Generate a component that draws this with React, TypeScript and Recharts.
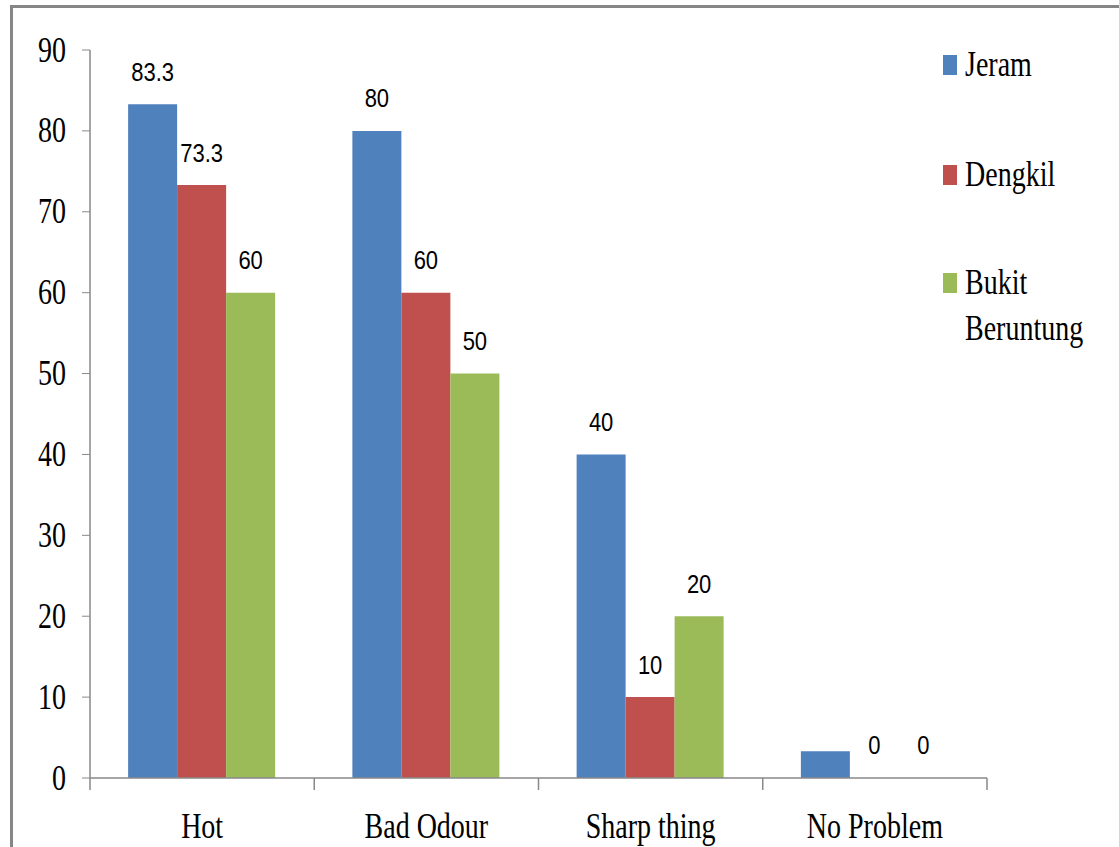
import React from 'react';
import { BarChart, Bar, XAxis, YAxis, LabelList } from 'recharts';

const categories = ['Hot', 'Bad Odour', 'Sharp thing', 'No Problem'];
const jeram = [83.3, 80, 40, 3.3];
const dengkil = [73.3, 60, 10, 0];
const bukit = [60, 50, 20, 0];
// labels as shown on the picture (the small Jeram bar has none)
const jeramLabels = ['83.3', '80', '40', ''];
const dengkilLabels = ['73.3', '60', '10', '0'];
const bukitLabels = ['60', '50', '20', '0'];
const yTicks = [0, 10, 20, 30, 40, 50, 60, 70, 80, 90];

const SERIES = [
  { key: 'jeram', name: 'Jeram', color: '#4f81bd', labels: jeramLabels },
  { key: 'dengkil', name: 'Dengkil', color: '#c0504d', labels: dengkilLabels },
  { key: 'bukit', name: 'Bukit Beruntung', color: '#9bbb59', labels: bukitLabels },
];

const data = categories.map((name, i) => ({
  name,
  jeram: jeram[i],
  dengkil: dengkil[i],
  bukit: bukit[i],
}));

const SERIF = '"Liberation Serif", "Times New Roman", serif';
const SANS = '"Liberation Sans", Arial, sans-serif';
const AXIS = '#898989';

const YTick = ({ x, y, payload }: any) => (
  <g transform={`translate(${x - 14},${y})`}>
    <text transform="scale(0.8,1)" textAnchor="end" dominantBaseline="central"
      fontFamily={SERIF} fontSize={35} fill="#000">{payload.value}</text>
  </g>
);

// category label plus the boundary tick marks between categories
const XTick = ({ x, y, payload, index, visibleTicksCount }: any) => {
  const half = payload.offset || 0;
  return (
    <g>
      <line x1={x - half} x2={x - half} y1={y} y2={y + 12} stroke={AXIS} strokeWidth={1.5} />
      {index === visibleTicksCount - 1 && (
        <line x1={x + half} x2={x + half} y1={y} y2={y + 12} stroke={AXIS} strokeWidth={1.5} />
      )}
      <g transform={`translate(${x},${y + 48})`}>
        <text transform="scale(0.8,1)" textAnchor="middle" dominantBaseline="central"
          fontFamily={SERIF} fontSize={35} fill="#000">{payload.value}</text>
      </g>
    </g>
  );
};

const makeLabel = (labels: string[]) => (props: any) => {
  const { x, y, width, index } = props;
  const text = labels[index];
  if (!text) return null;
  return (
    <g transform={`translate(${x + width / 2},${y - 32})`}>
      <text transform="scale(0.88,1)" textAnchor="middle" dominantBaseline="central"
        fontFamily={SANS} fontSize={25} fill="#000">{text}</text>
    </g>
  );
};

const LegendBox = () => (
  <div style={{ position: 'absolute', left: 943, top: 50, fontFamily: SERIF, fontSize: 35, color: '#000' }}>
    {SERIES.map((s, i) => (
      <div key={s.key} style={{ position: 'absolute', left: 0, top: [0, 110, 218][i], display: 'flex' }}>
        <span style={{ width: 14, height: 20, background: s.color, marginTop: 5, marginRight: 8, flex: 'none' }} />
        <span style={{ display: 'inline-block', transform: 'scaleX(0.8)', transformOrigin: 'left', lineHeight: '46px', marginTop: -8, width: 180 }}>
          {s.name.split(' ').map((w, j) => <div key={j}>{w}</div>)}
        </span>
      </div>
    ))}
  </div>
);

export default function App() {
  return (
    <div style={{ position: 'fixed', left: 0, top: 0, width: 1119, height: 847, background: '#fff', overflow: 'hidden' }}>
      <div style={{ position: 'absolute', left: 10, top: 5, width: 1200, height: 900, borderTop: '3px solid #868686', borderLeft: '3px solid #868686' }} />
      <div style={{ position: 'absolute', left: 0, top: 0 }}>
        <BarChart width={1119} height={847} data={data}
          margin={{ top: 50, right: 132, bottom: 0, left: 30 }}
          barGap={0} barCategoryGap="17%">
          <XAxis dataKey="name" height={69} tickLine={false} tickSize={0} tickMargin={0}
            axisLine={{ stroke: AXIS, strokeWidth: 1.5 }} tick={<XTick />} interval={0} />
          <YAxis domain={[0, 90]} ticks={yTicks} width={60} tickSize={8}
            axisLine={{ stroke: AXIS, strokeWidth: 1.5 }} tickLine={{ stroke: AXIS }}
            tick={<YTick />} interval={0} />
          {SERIES.map((s) => (
            <Bar key={s.key} dataKey={s.key} name={s.name} fill={s.color}
              minPointSize={(v: number) => (v === 0 ? 0.01 : 0)}
              isAnimationActive={false}>
              <LabelList dataKey={s.key} content={makeLabel(s.labels)} />
            </Bar>
          ))}
        </BarChart>
      </div>
      <LegendBox />
    </div>
  );
}
